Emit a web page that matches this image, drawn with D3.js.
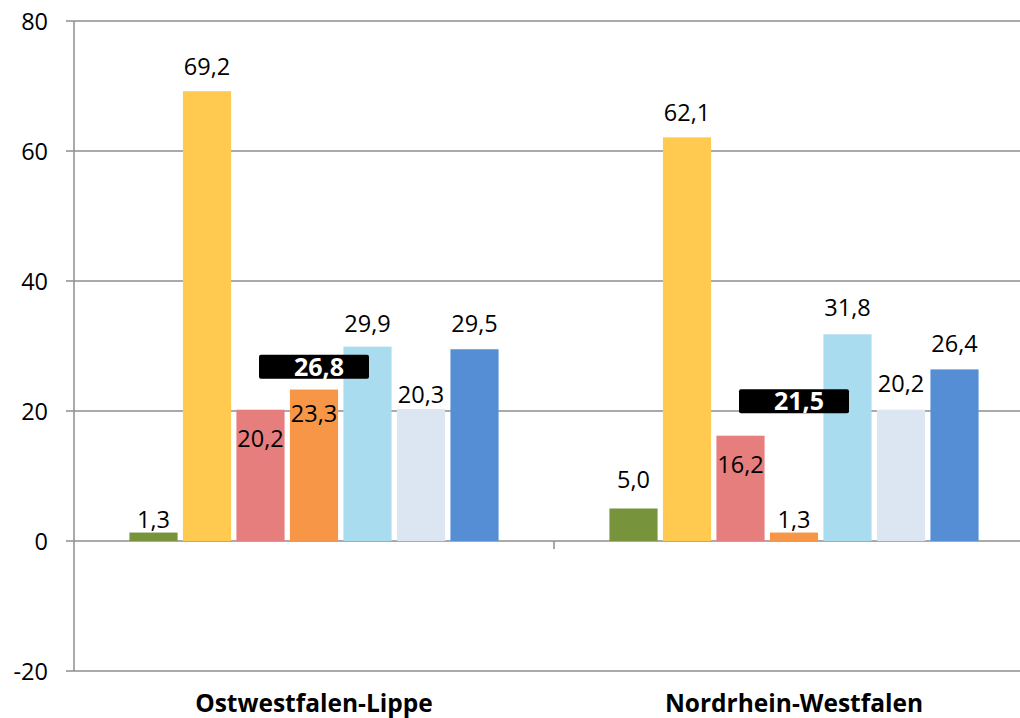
<!DOCTYPE html>
<html>
<head>
<meta charset="utf-8">
<script src="https://cdn.jsdelivr.net/npm/d3@7"></script>
<style>
  html, body { margin: 0; padding: 0; background: #fff; }
  svg { display: block; }
  text { font-family: "Open Sans", "Noto Sans", sans-serif; }
</style>
</head>
<body>
<svg id="chart" width="1020" height="718"></svg>
<script>
// ---- data ----
const categories = ["Ostwestfalen-Lippe", "Nordrhein-Westfalen"];
const seriesNames = ["S1", "S2", "S3", "S4", "S5", "S6", "S7"];
const valuesOWL = [1.3, 69.2, 20.2, 23.3, 29.9, 20.3, 29.5];
const valuesNRW = [5.0, 62.1, 16.2, 1.3, 31.8, 20.2, 26.4];
const averages = [26.8, 21.5];
const yTicks = [-20, 0, 20, 40, 60, 80];

// ---- style ----
const colors = ["#77933c", "#ffca4f", "#e67e7e", "#f79646", "#a9dcee", "#dce6f2", "#558ed5"];
// label baseline offset from bar top (px, negative = above)
const labelDyOWL = [-4.5, -16, 37, 32, -15, -6, -17.5];
const labelDyNRW = [-20.5, -16.5, 37, -4.5, -18, -18, -17.5];

const svg = d3.select("#chart");
const plotLeft = 74, plotRight = 1034, plotTop = 21, plotBottom = 671;
const fmt = v => d3.format(".1f")(v).replace(".", ",");

const y = d3.scaleLinear().domain([-20, 80]).range([plotBottom, plotTop]);
const x0 = d3.scaleBand().domain(categories).range([plotLeft, plotRight]).padding(0);
const x1 = d3.scaleBand().domain(seriesNames)
  .range([52.75, x0.bandwidth() - 52.75]).paddingInner(0.1).paddingOuter(0.05);

// gridlines
svg.append("g").selectAll("line").data(yTicks).join("line")
  .attr("x1", plotLeft - 8).attr("x2", 1020)
  .attr("y1", d => y(d)).attr("y2", d => y(d))
  .attr("stroke", "#8e8e8e").attr("stroke-width", 1.5);

// y axis line
svg.append("line").attr("x1", plotLeft).attr("x2", plotLeft)
  .attr("y1", y(80)).attr("y2", y(-20))
  .attr("stroke", "#8e8e8e").attr("stroke-width", 1.5);

// y tick labels
svg.append("g").selectAll("text").data(yTicks).join("text")
  .attr("x", 48).attr("y", d => y(d) + 8.5)
  .attr("text-anchor", "end").attr("font-size", 23.5).attr("fill", "#000")
  .text(d => d);

// category tick marks on zero line
svg.append("g").selectAll("line").data(categories.slice(1)).join("line")
  .attr("x1", d => x0(d)).attr("x2", d => x0(d))
  .attr("y1", y(0)).attr("y2", y(0) + 8)
  .attr("stroke", "#8e8e8e").attr("stroke-width", 1.5);

const groups = [
  { cat: categories[0], values: valuesOWL, dy: labelDyOWL, avg: averages[0] },
  { cat: categories[1], values: valuesNRW, dy: labelDyNRW, avg: averages[1] }
];

groups.forEach(g => {
  const gx = x0(g.cat);
  const gg = svg.append("g").attr("transform", `translate(${gx},0)`);
  const data = g.values.map((v, i) => ({ name: seriesNames[i], v, i }));
  gg.selectAll("rect.bar").data(data).join("rect").attr("class", "bar")
    .attr("x", d => x1(d.name)).attr("width", x1.bandwidth())
    .attr("y", d => y(Math.max(0, d.v))).attr("height", d => Math.abs(y(d.v) - y(0)))
    .attr("fill", d => colors[d.i]);
  gg.selectAll("text.lab").data(data).join("text").attr("class", "lab")
    .attr("x", d => x1(d.name) + x1.bandwidth() / 2)
    .attr("y", d => y(d.v) + g.dy[d.i])
    .attr("text-anchor", "middle").attr("font-size", 23.5).attr("fill", "#000")
    .text(d => fmt(d.v));
  // average box
  const cx = x0.bandwidth() / 2;
  gg.append("rect")
    .attr("x", cx - 55).attr("width", 110)
    .attr("y", y(g.avg) - 12).attr("height", 24).attr("rx", 2)
    .attr("fill", "#000");
  gg.append("text")
    .attr("x", cx + 5).attr("y", y(g.avg) + 9)
    .attr("text-anchor", "middle").attr("font-size", 25).attr("font-weight", "bold")
    .attr("fill", "#fff").text(fmt(g.avg));
  // category label
  svg.append("text")
    .attr("x", gx + x0.bandwidth() / 2).attr("y", 711.5)
    .attr("text-anchor", "middle").attr("font-size", 24.5).attr("font-weight", "bold")
    .attr("fill", "#000").text(g.cat);
});
</script>
</body>
</html>
